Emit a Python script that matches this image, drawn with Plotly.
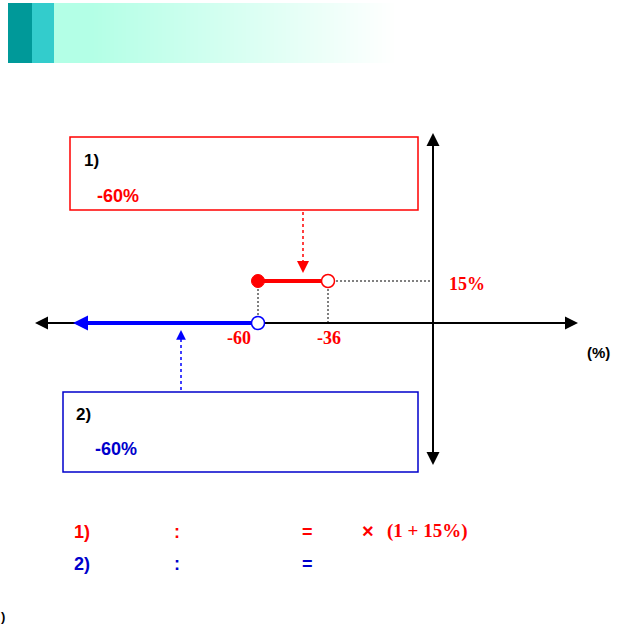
import plotly.graph_objects as go

# number-line values (%)
case1_x = [-60, -36]      # red segment, lifted by the rise
case1_rise = 15
case2_x = [-60]           # blue ray start, runs to the left
tick_vals = [-60, -36]
tick_text = ["-60", "-36"]
rise_label = "15%"
box_values = ["-60%", "-60%"]

W, H = 624, 630
ORIGIN = (433, 323)           # pixel of (0, 0)
SX, SY = 175 / 60, 42 / 15    # pixels per percent
RED = "#ff0000"
BLUE = "#0000cc"
BLUE_LINE = "#0000ff"
ARIAL = "Arial, Liberation Sans"
TIMES = "Times New Roman, Liberation Serif"


def px(x):
    return x / W


def py(y):
    return 1 - y / H


def to_x(p):
    return (p - ORIGIN[0]) / SX


def to_y(p):
    return (ORIGIN[1] - p) / SY


fig = go.Figure()
shapes = []
ann = []

# header banner
shapes.append(dict(type="rect", xref="paper", yref="paper", x0=px(8), x1=px(32), y0=py(63), y1=py(3),
                   fillcolor="#009999", line_width=0, layer="below"))
shapes.append(dict(type="rect", xref="paper", yref="paper", x0=px(32), x1=px(54), y0=py(63), y1=py(3),
                   fillcolor="#33cccc", line_width=0, layer="below"))
start, stop, step = 54, 392, 4
for x in range(start, stop, step):
    t = (x - start) / (stop - start)
    t = max(0.0, (t - 0.1) / 0.9)
    r = int(179 + (255 - 179) * t)
    g = 255
    b = int(230 + (255 - 230) * t)
    shapes.append(dict(type="rect", xref="paper", yref="paper", x0=px(x), x1=px(x + step + 0.5),
                       y0=py(63), y1=py(3), fillcolor=f"rgb({r},{g},{b})", line_width=0, layer="below"))

# axes
shapes.append(dict(type="line", xref="paper", yref="paper", x0=px(38), x1=px(575), y0=py(323), y1=py(323),
                   line=dict(color="black", width=2), layer="below"))
shapes.append(dict(type="line", xref="paper", yref="paper", x0=px(433), x1=px(433), y0=py(136), y1=py(462),
                   line=dict(color="black", width=2), layer="below"))
for x, y, ax, ay in [(35, 323, 14, 0), (578, 323, -14, 0), (433, 133, 0, 14), (433, 465, 0, -14)]:
    ann.append(dict(xref="paper", yref="paper", x=px(x), y=py(y), ax=ax, ay=ay, text="",
                    showarrow=True, arrowhead=2, arrowsize=1.3, arrowwidth=2, arrowcolor="black"))

# boxes
shapes.append(dict(type="rect", xref="paper", yref="paper", x0=px(70), x1=px(418), y0=py(210), y1=py(137),
                   line=dict(color=RED, width=1.5), fillcolor="rgba(0,0,0,0)"))
shapes.append(dict(type="rect", xref="paper", yref="paper", x0=px(63), x1=px(418), y0=py(472), y1=py(392),
                   line=dict(color=BLUE, width=1.5), fillcolor="rgba(0,0,0,0)"))

# dotted pointer arrows
shapes.append(dict(type="line", xref="paper", yref="paper", x0=px(303), x1=px(303), y0=py(212), y1=py(264),
                   line=dict(color=RED, width=1.5, dash="dot")))
ann.append(dict(xref="paper", yref="paper", x=px(303), y=py(273), ax=0, ay=-6, text="", showarrow=True,
                arrowhead=2, arrowsize=1.6, arrowwidth=1.5, arrowcolor=RED))
shapes.append(dict(type="line", xref="paper", yref="paper", x0=px(181), x1=px(181), y0=py(390), y1=py(337),
                   line=dict(color=BLUE_LINE, width=1.5, dash="dot")))
ann.append(dict(xref="paper", yref="paper", x=px(181), y=py(330), ax=0, ay=6, text="", showarrow=True,
                arrowhead=2, arrowsize=1.3, arrowwidth=1.5, arrowcolor=BLUE_LINE))

# dotted guides
guide = dict(color="black", width=1, dash="2px,2px")
fig.add_trace(go.Scatter(x=[case1_x[1], 0], y=[case1_rise, case1_rise], mode="lines",
                         line=guide, hoverinfo="skip"))
for v in case1_x:
    fig.add_trace(go.Scatter(x=[v, v], y=[case1_rise, 0], mode="lines", line=guide, hoverinfo="skip"))

# blue ray to the left
left_end = to_x(80)
fig.add_trace(go.Scatter(x=[case2_x[0], left_end], y=[0, 0], mode="lines",
                         line=dict(color=BLUE_LINE, width=4), hoverinfo="skip"))
ann.append(dict(xref="x", yref="y", x=to_x(73), y=0, ax=12, ay=0, text="", showarrow=True,
                arrowhead=2, arrowsize=0.75, arrowwidth=4, arrowcolor=BLUE_LINE))
fig.add_trace(go.Scatter(x=case2_x, y=[0], mode="markers",
                         marker=dict(size=13, color="white", line=dict(color=BLUE_LINE, width=1.5)),
                         hoverinfo="skip"))

# red segment
fig.add_trace(go.Scatter(x=case1_x, y=[case1_rise] * 2, mode="lines",
                         line=dict(color=RED, width=4), hoverinfo="skip"))
fig.add_trace(go.Scatter(x=[case1_x[0]], y=[case1_rise], mode="markers",
                         marker=dict(size=13, color=RED, line=dict(color=RED, width=1)), hoverinfo="skip"))
fig.add_trace(go.Scatter(x=[case1_x[1]], y=[case1_rise], mode="markers",
                         marker=dict(size=13, color="white", line=dict(color=RED, width=1.5)),
                         hoverinfo="skip"))

# tick labels on the number line
for v, t in zip(tick_vals, tick_text):
    ann.append(dict(xref="x", yref="y", x=v, y=0, yshift=-15, text=f"<b>{t}</b>", showarrow=False,
                    xshift=-19 if v == tick_vals[0] else 1,
                    font=dict(family=TIMES, size=18, color=RED)))
ann.append(dict(xref="x", yref="y", x=0, y=case1_rise, xshift=14, yshift=-3, xanchor="left",
                text=f"<b>{rise_label}</b>", showarrow=False, font=dict(family=TIMES, size=18, color=RED)))


def label(x, y, text, color, size=16, family=ARIAL, anchor="left"):
    ann.append(dict(xref="paper", yref="paper", x=px(x), y=py(y), text=f"<b>{text}</b>", showarrow=False,
                    xanchor=anchor, yanchor="middle", font=dict(family=family, size=size, color=color)))


label(82, 160, "1)", "black", 17)
label(95, 196, box_values[0], RED, 18)
label(74, 414, "2)", "black", 17)
label(93, 449, box_values[1], BLUE, 18)
label(585, 352, "(%)", "black", 15)

label(72, 532, "1)", RED, 18)
label(177, 532, ":", RED, 18, anchor="center")
label(307, 532, "=", RED, 18, anchor="center")
label(368, 531, "×", RED, 20, anchor="center")
label(385, 531, "(1 + 15%)", RED, 19, family=TIMES)
label(72, 564, "2)", BLUE, 18)
label(177, 564, ":", BLUE, 18, anchor="center")
label(307, 564, "=", BLUE, 18, anchor="center")
label(-1, 616, ")", "black", 13)

fig.update_layout(
    width=W, height=H, margin=dict(l=0, r=0, t=0, b=0),
    paper_bgcolor="white", plot_bgcolor="white", showlegend=False,
    xaxis=dict(range=[to_x(0), to_x(W)], visible=False, fixedrange=True),
    yaxis=dict(range=[to_y(H), to_y(0)], visible=False, fixedrange=True),
    shapes=shapes, annotations=ann,
)

fig.write_html("out.html", config={"displayModeBar": False},
               post_script="document.body.style.margin='0';")
